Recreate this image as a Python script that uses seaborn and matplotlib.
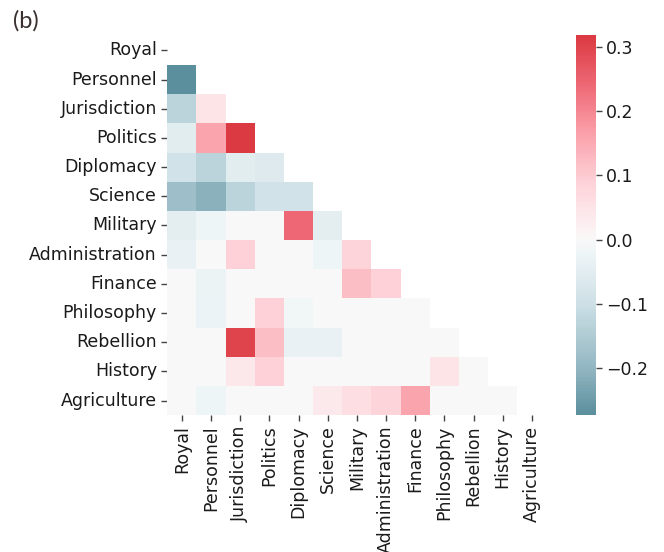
import numpy as np
import pandas as pd
import matplotlib
matplotlib.use("Agg")
import matplotlib.pyplot as plt
from matplotlib.colors import LinearSegmentedColormap
import seaborn as sns

categories = ["Royal", "Personnel", "Jurisdiction", "Politics", "Diplomacy", "Science",
              "Military", "Administration", "Finance", "Philosophy", "Rebellion",
              "History", "Agriculture"]

# Lower-triangle correlation values, one list per row (columns left of the diagonal)
row_royal = []
row_personnel = [-0.273]
row_jurisdiction = [-0.13, 0.05]
row_politics = [-0.05, 0.16, 0.318]
row_diplomacy = [-0.09, -0.13, -0.05, -0.06]
row_science = [-0.18, -0.21, -0.13, -0.09, -0.09]
row_military = [-0.045, -0.02, 0.0, 0.0, 0.24, -0.045]
row_administration = [-0.035, 0.0, 0.09, 0.0, 0.0, -0.02, 0.085]
row_finance = [0.0, -0.03, 0.0, 0.0, 0.0, 0.0, 0.12, 0.09]
row_philosophy = [0.0, -0.025, 0.0, 0.09, -0.015, 0.0, 0.0, 0.0, 0.0]
row_rebellion = [0.0, 0.0, 0.30, 0.12, -0.035, -0.035, 0.0, 0.0, 0.0, 0.0]
row_history = [0.0, 0.0, 0.04, 0.09, 0.0, 0.0, 0.0, 0.0, 0.0, 0.05, 0.0]
row_agriculture = [0.0, -0.02, 0.0, 0.0, 0.0, 0.035, 0.06, 0.085, 0.16, 0.0, 0.0, 0.0]

rows = [row_royal, row_personnel, row_jurisdiction, row_politics, row_diplomacy,
        row_science, row_military, row_administration, row_finance, row_philosophy,
        row_rebellion, row_history, row_agriculture]

n = len(categories)
corr = np.eye(n)
for i, r in enumerate(rows):
    for j, v in enumerate(r):
        corr[i, j] = v
        corr[j, i] = v
corr_df = pd.DataFrame(corr, index=categories, columns=categories)
mask = np.triu(np.ones_like(corr, dtype=bool))

# Blue-to-red diverging map with a light neutral centre, symmetric about 0
span = 0.318
stops = [(-0.318, "#4a8292"), (-0.273, "#5c8f9d"), (-0.20, "#93b7c2"),
         (-0.10, "#cde0e6"), (-0.02, "#eff5f7"), (0.0, "#f8f8f8"),
         (0.02, "#fcf0f2"), (0.09, "#fdd2d8"), (0.17, "#fa9ea8"),
         (0.24, "#ee6a76"), (0.318, "#dc3a42")]
cmap = LinearSegmentedColormap.from_list(
    "div", [((v + span) / (2 * span), c) for v, c in stops], N=256)

sns.set_style("white")
fig = plt.figure(figsize=(6.64, 5.52), dpi=100)
ax = fig.add_axes([0.252, 0.248, 0.571, 0.687])
cax = fig.add_axes([0.8675, 0.248, 0.030, 0.688])

sns.heatmap(corr_df, mask=mask, cmap=cmap, center=0, vmin=-0.273, vmax=0.318,
            linewidths=0, ax=ax, cbar_ax=cax,
            cbar_kws={"ticks": [-0.2, -0.1, 0.0, 0.1, 0.2, 0.3]})

ax.tick_params(axis="both", which="major", length=4, width=1, color="#444444",
               labelsize=12.5, labelcolor="#1a1a1a", left=True, bottom=True)
ax.set_xticklabels(categories, rotation=90)
ax.set_yticklabels(categories, rotation=0)
cax.tick_params(labelsize=12.5, labelcolor="#1a1a1a", length=4, width=1, color="#444444")
cax.set_yticklabels(["\u22120.2", "\u22120.1", "0.0", "0.1", "0.2", "0.3"])
for s in cax.spines.values():
    s.set_visible(False)

fig.text(0.02, 0.962, "(b)", fontsize=17, color="#3a3030", va="center", ha="left",
         family="Lato")

fig.savefig("out.png", dpi=100)
